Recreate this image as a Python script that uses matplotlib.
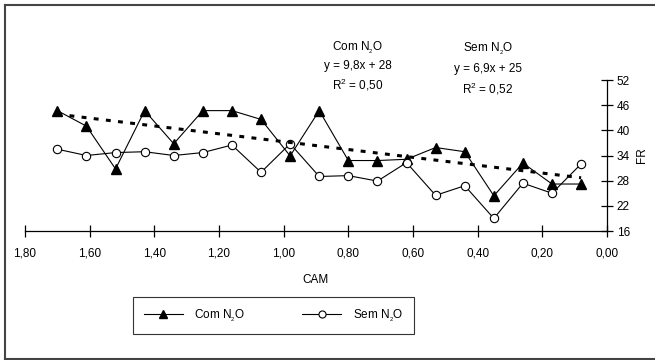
import numpy as np
import matplotlib.pyplot as plt
from matplotlib.lines import Line2D

plt.rcParams['font.family'] = ['Liberation Sans', 'DejaVu Sans']
plt.rcParams['mathtext.fontset'] = 'custom'
plt.rcParams['mathtext.rm'] = 'Liberation Sans'
plt.rcParams['mathtext.it'] = 'Liberation Sans'

# CAM values (x) and FR values for each series
cam = [1.70, 1.61, 1.52, 1.43, 1.34, 1.25, 1.16, 1.07, 0.98, 0.89,
       0.80, 0.71, 0.62, 0.53, 0.44, 0.35, 0.26, 0.17, 0.08]
fr_com = [44.7, 41.0, 30.8, 44.7, 36.8, 44.7, 44.7, 42.6, 33.9, 44.7,
          32.8, 32.8, 33.1, 35.9, 34.9, 24.4, 32.2, 27.2, 27.2]
fr_sem = [35.5, 34.0, 34.7, 34.9, 34.0, 34.7, 36.5, 30.0, 36.8, 29.0,
          29.2, 27.9, 32.3, 24.5, 26.8, 19.0, 27.4, 25.0, 32.0]

xticks = [1.80, 1.60, 1.40, 1.20, 1.00, 0.80, 0.60, 0.40, 0.20, 0.00]
yticks = [16, 22, 28, 34, 40, 46, 52]

W, H = 655, 360
fig = plt.figure(figsize=(W / 100, H / 100), dpi=100)
ax = fig.add_axes([25 / W, 1 - 231 / H, 582 / W, 151 / H])

ax.plot(cam, fr_com, color='black', lw=0.8, marker='^', ms=6.5,
        mfc='black', mec='black', label=r'Com N$_{_2}$O', zorder=3)
ax.plot(cam, fr_sem, color='black', lw=0.8, marker='o', ms=6,
        mfc='white', mec='black', mew=0.8, label=r'Sem N$_{_2}$O', zorder=3)

# linear trend of "Com N2O"
coef = np.polyfit(cam, fr_com, 1)
xt = np.array([cam[0], cam[-1]])
ax.plot(xt, np.polyval(coef, xt), color='black', lw=2.2,
        linestyle=(0, (1.6, 2.4)), zorder=4)

ax.set_xlim(1.80, 0.00)
ax.set_ylim(16, 52)
ax.set_xticks(xticks)
ax.set_xticklabels([f'{v:.2f}'.replace('.', ',') for v in xticks])
ax.set_yticks(yticks)
ax.yaxis.tick_right()
ax.yaxis.set_label_position('right')
for s in ['top', 'left']:
    ax.spines[s].set_visible(False)
for s in ['bottom', 'right']:
    ax.spines[s].set_linewidth(0.9)
ax.tick_params(axis='both', direction='inout', length=8, width=0.9,
               labelsize=8.5, colors='black')
ax.tick_params(axis='x', pad=8)
ax.tick_params(axis='y', pad=3)
ax.set_xlabel('CAM', fontsize=8.5, labelpad=10)
ax.set_ylabel('FR', fontsize=8.5, labelpad=4)
ax.patch.set_visible(False)

# trendline equations
fig.text(358 / W, 1 - 48 / H, r'Com N$_{_2}$O', ha='center', va='center', fontsize=8.5)
fig.text(358 / W, 1 - 66 / H, 'y = 9,8x + 28', ha='center', va='center', fontsize=8.5)
fig.text(358 / W, 1 - 85 / H, r'R$^2$ = 0,50', ha='center', va='center', fontsize=8.5)
fig.text(488 / W, 1 - 49 / H, r'Sem N$_{_2}$O', ha='center', va='center', fontsize=8.5)
fig.text(488 / W, 1 - 69 / H, 'y = 6,9x + 25', ha='center', va='center', fontsize=8.5)
fig.text(488 / W, 1 - 89 / H, r'R$^2$ = 0,52', ha='center', va='center', fontsize=8.5)

leg = fig.legend(loc='center', bbox_to_anchor=(273.5 / W, 1 - 315.5 / H),
                 ncol=2, fontsize=8.5, frameon=True, fancybox=False,
                 edgecolor='black', handlelength=3.3, handletextpad=1.0,
                 columnspacing=4.8, borderpad=0.9, borderaxespad=0,
                 markerscale=0.85)
leg.get_frame().set_linewidth(0.8)

# outer chart frame: left, top and bottom edges only
x0, y_top, y_bot = 5 / W, 1 - 4.5 / H, 1 - 359 / H
for xs, ys in [([x0, x0], [y_bot, y_top]),
               ([x0, 1.0], [y_top, y_top]),
               ([x0, 1.0], [y_bot, y_bot])]:
    fig.add_artist(Line2D(xs, ys, transform=fig.transFigure,
                          color='#444444', lw=1.5))

plt.savefig('out.png', dpi=100)
